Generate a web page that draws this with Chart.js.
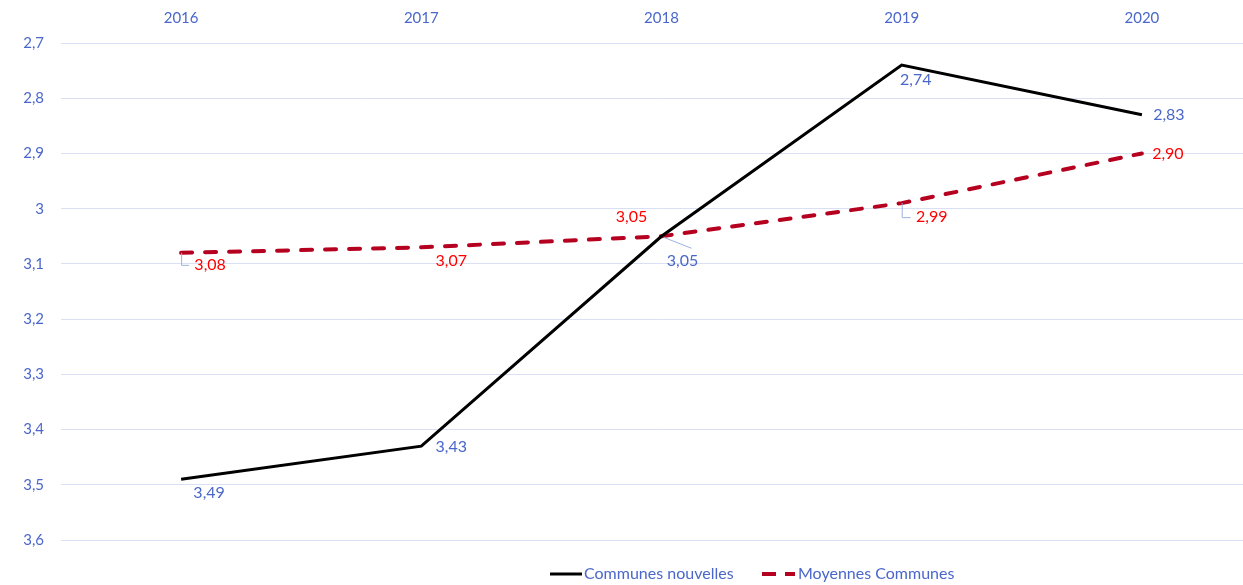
<!DOCTYPE html>
<html>
<head>
<meta charset="utf-8">
<script src="https://cdn.jsdelivr.net/npm/chart.js@4/dist/chart.umd.min.js"></script>
<style>
html, body { margin: 0; padding: 0; background: #fff; overflow: hidden; }
#wrap { position: relative; width: 1262px; height: 585px; }
</style>
</head>
<body>
<div id="wrap"><canvas id="chart"></canvas></div>
<script>
/* ===== Données ===== */
const years = ['2016', '2017', '2018', '2019', '2020'];
const communesNouvelles = [3.49, 3.43, 3.05, 2.74, 2.83];
const moyennesCommunes = [3.08, 3.07, 3.05, 2.99, 2.90];
const yMin = 2.7, yMax = 3.6, yStep = 0.1;

/* ===== Styles ===== */
const BLUE = '#4a67c9';
const RED = '#ff0000';
const DARK_RED = '#b5001f';
const GRID = '#d9e0f3';
const LEADER = '#9fb0e0';
const FONT = 'Lato, "Noto Sans", sans-serif';

// décalage des étiquettes (centre du texte par rapport au point) + trait de rappel
const labelPos = [
    [[28, 14, null], [30, 1, null], [21, 25, 'diag'], [14, 15, null], [27, 0, null]],
    [[29, 12, 'L'], [30, 14, null], [-30, -19, null], [30, 14, 'L'], [26, 0, null]]
];
const labelColors = [BLUE, RED];

// légende dessinée à la main (trait + texte)
const legendItems = [
    { x: 550, sample: 32, gap: 2, dash: [] },
    { x: 762, sample: 33, gap: 3, dash: [14, 9] }
];
const legendY = 574;

const fmt = v => v.toFixed(2).replace('.', ',');

/* ===== Étiquettes de données ===== */
const dataLabels = {
    id: 'dataLabels',
    afterDatasetsDraw(chart) {
        const ctx = chart.ctx;
        ctx.save();
        ctx.font = '16px ' + FONT;
        ctx.textAlign = 'center';
        ctx.textBaseline = 'middle';
        chart.data.datasets.forEach((ds, di) => {
            const meta = chart.getDatasetMeta(di);
            meta.data.forEach((pt, i) => {
                const [dx, dy, leader] = labelPos[di][i];
                const x = pt.x, y = pt.y;
                if (leader) {
                    ctx.strokeStyle = LEADER;
                    ctx.lineWidth = 1;
                    ctx.beginPath();
                    if (leader === 'diag') {
                        ctx.moveTo(x + 2, y + 1);
                        ctx.lineTo(x + dx + 9, y + dy - 13);
                    } else {
                        ctx.moveTo(x + 0.5, y);
                        ctx.lineTo(x + 0.5, y + dy + 0.5);
                        ctx.lineTo(x + dx - 21, y + dy + 0.5);
                    }
                    ctx.stroke();
                }
                ctx.fillStyle = labelColors[di];
                ctx.fillText(fmt(ds.data[i]), x + dx, y + dy);
            });
        });
        ctx.restore();
    }
};

/* ===== Légende ===== */
const lineLegend = {
    id: 'lineLegend',
    afterDraw(chart) {
        const ctx = chart.ctx;
        ctx.save();
        ctx.font = '16px ' + FONT;
        ctx.textAlign = 'left';
        ctx.textBaseline = 'middle';
        chart.data.datasets.forEach((ds, di) => {
            const it = legendItems[di];
            ctx.strokeStyle = ds.borderColor;
            ctx.lineWidth = ds.borderWidth;
            ctx.lineCap = 'butt';
            ctx.setLineDash(it.dash);
            ctx.beginPath();
            ctx.moveTo(it.x, legendY);
            ctx.lineTo(it.x + it.sample, legendY);
            ctx.stroke();
            ctx.setLineDash([]);
            ctx.fillStyle = BLUE;
            ctx.fillText(ds.label, it.x + it.sample + it.gap, legendY);
        });
        ctx.restore();
    }
};

/* ===== Graphique ===== */
new Chart(document.getElementById('chart'), {
    type: 'line',
    data: {
        labels: years,
        datasets: [
            {
                label: 'Communes nouvelles',
                data: communesNouvelles,
                borderColor: '#000',
                backgroundColor: '#000',
                borderWidth: 3,
                tension: 0,
                pointRadius: 0
            },
            {
                label: 'Moyennes Communes',
                data: moyennesCommunes,
                borderColor: DARK_RED,
                backgroundColor: DARK_RED,
                borderWidth: 4,
                borderDash: [11, 13],
                borderCapStyle: 'round',
                tension: 0,
                pointRadius: 0
            }
        ]
    },
    options: {
        responsive: true,
        maintainAspectRatio: false,
        animation: false,
        layout: { padding: { top: 0, left: 0, right: 0, bottom: 45 } },
        plugins: {
            tooltip: { enabled: false },
            legend: { display: false }
        },
        scales: {
            x: {
                position: 'top',
                offset: true,
                grid: { display: false, drawTicks: false },
                border: { display: false },
                ticks: { color: BLUE, padding: 16, font: { family: FONT, size: 15 } },
                afterFit: s => { s.height = 43; }
            },
            y: {
                reverse: true,
                min: yMin,
                max: yMax,
                grid: { color: GRID, lineWidth: 1, drawTicks: false },
                border: { display: false },
                ticks: {
                    stepSize: yStep,
                    color: BLUE,
                    padding: 17,
                    font: { family: FONT, size: 15 },
                    callback: v => String(Math.round(v * 10) / 10).replace('.', ',')
                },
                afterFit: s => { s.width = 61; }
            }
        }
    },
    plugins: [dataLabels, lineLegend]
});
</script>
</body>
</html>
